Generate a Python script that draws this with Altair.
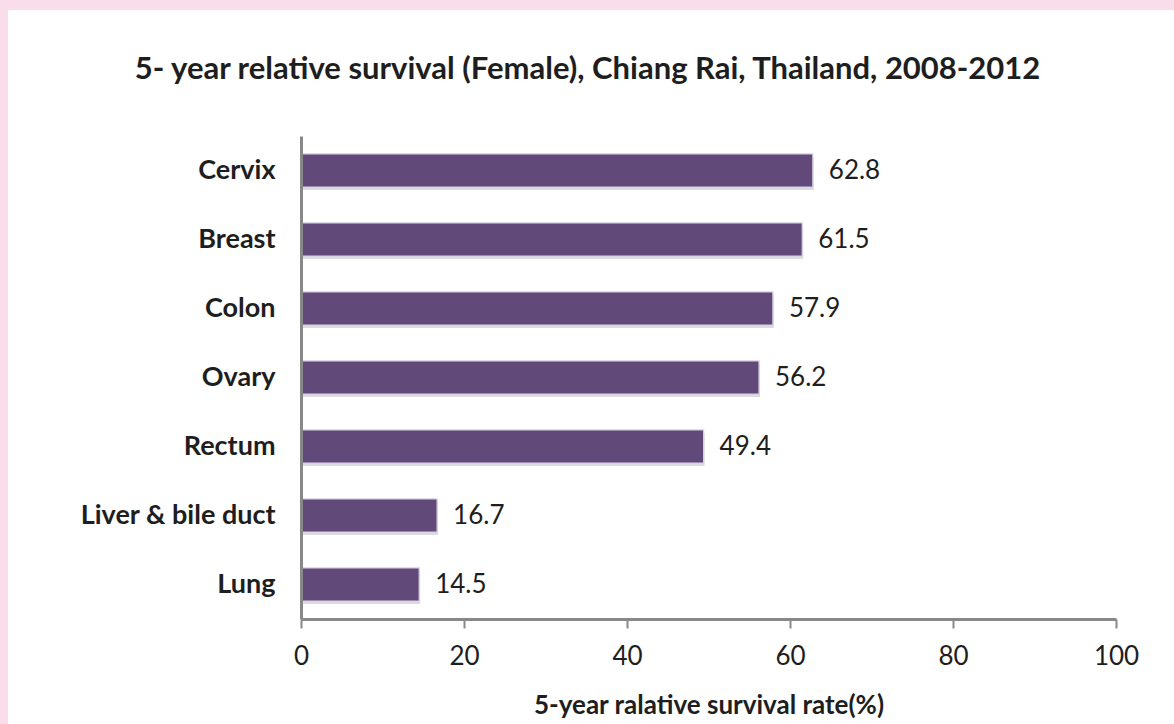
import altair as alt
import pandas as pd

# 5-year relative survival, females, Chiang Rai 2008-2012
sites = ["Cervix", "Breast", "Colon", "Ovary", "Rectum", "Liver & bile duct", "Lung"]
survival = [62.8, 61.5, 57.9, 56.2, 49.4, 16.7, 14.5]

df = pd.DataFrame({"site": sites, "survival": survival})
df["label"] = df["survival"].map(lambda v: f"{v:.1f}")

FONT = "Lato"
BAR = "#614A7A"
AXIS_GREY = "#888888"
TEXT = "#1e1e1e"

y_enc = alt.Y("site:N", sort=sites, title=None,
              scale=alt.Scale(paddingInner=0.52, paddingOuter=0.26))
x_scale = alt.Scale(domain=[0, 100], nice=False)

# white panel sitting on the pink page background
panel = alt.Chart(df).mark_rect(color="white").encode(
    x=alt.value(-293), x2=alt.value(900),
    y=alt.value(-126), y2=alt.value(700),
)

shadow = alt.Chart(df).mark_bar(color="#9a9a9a", opacity=0.35, yOffset=3, xOffset=1).encode(
    x=alt.X("survival:Q", scale=x_scale),
    y=y_enc,
)

bars = alt.Chart(df).mark_bar(color=BAR, stroke="#d9d0e6", strokeWidth=1.2).encode(
    x=alt.X("survival:Q", scale=x_scale,
            axis=alt.Axis(values=[0, 20, 40, 60, 80, 100], format="d",
                          title="5-year ralative survival rate(%)",
                          titleFont=FONT, titleFontSize=26, titleFontWeight="bold",
                          titleColor=TEXT, titlePadding=23,
                          labelFont=FONT, labelFontSize=26, labelColor=TEXT,
                          labelPadding=15, labelFlush=False, tickSize=9, tickWidth=2,
                          tickColor=AXIS_GREY, domainColor=AXIS_GREY, domainWidth=3,
                          grid=False, zindex=1)),
    y=alt.Y("site:N", sort=sites, title=None,
            scale=alt.Scale(paddingInner=0.52, paddingOuter=0.26),
            axis=alt.Axis(labelFont=FONT, labelFontSize=27, labelFontWeight="bold",
                          labelColor=TEXT, labelPadding=26, labelLimit=400, ticks=False,
                          domainColor=AXIS_GREY, domainWidth=3, zindex=1)),
)

labels = alt.Chart(df).mark_text(align="left", baseline="middle", dx=16,
                                 font=FONT, fontSize=26, color=TEXT).encode(
    x=alt.X("survival:Q", scale=x_scale),
    y=y_enc,
    text="label:N",
)

chart = alt.layer(panel, shadow, bars, labels).properties(
    width=815,
    height=483,
    padding={"left": 301, "top": 136, "right": 58, "bottom": 105},
    autosize=alt.AutoSizeParams(type="none"),
    background="#FADDEA",
    title=alt.TitleParams(
        "5- year relative survival (Female), Chiang Rai, Thailand, 2008-2012",
        font=FONT, fontSize=31, fontWeight="bold", color=TEXT,
        anchor="middle", frame="group", dx=-121, dy=124, offset=48, zindex=1,
    ),
).configure_view(stroke=None)

chart.save("out.html", embed_options={"renderer": "svg", "actions": False})
